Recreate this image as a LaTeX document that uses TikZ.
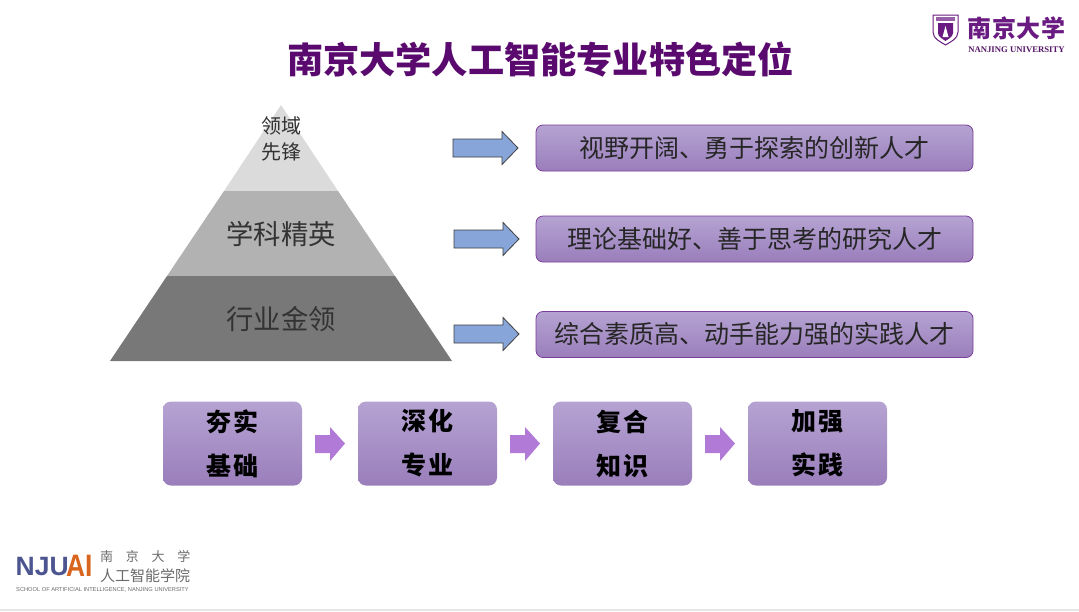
\documentclass[tikz,border=0pt]{standalone}
\usepackage{fontspec}
\setmainfont{Noto Sans CJK SC}
\newfontfamily\latinserif{Liberation Serif}
\newfontfamily\latinsans{Liberation Sans}
\usetikzlibrary{calc}
\definecolor{titlepurple}{HTML}{5A0A6E}
\definecolor{njupurple}{HTML}{6A1B82}
\definecolor{boxtop}{HTML}{B5A3D2}
\definecolor{boxbot}{HTML}{9A7EBB}
\definecolor{boxline}{HTML}{7A3E9A}
\definecolor{arrowblue}{HTML}{87A5D8}
\definecolor{linkpurple}{HTML}{B07AD6}
\definecolor{logoblue}{HTML}{4D5590}
\definecolor{logoorange}{HTML}{D9641E}
\definecolor{logogrey}{HTML}{6B6B6B}
\tikzset{
  x=1pt,y=-1pt,
  outcome/.style={draw=boxline,line width=0.8pt,rounded corners=7pt,top color=boxtop,bottom color=boxbot,minimum width=437pt,minimum height=46pt,inner sep=0pt,text=black!85,font=\fontsize{25}{25}\selectfont},
  stage/.style={rounded corners=8pt,top color=boxtop,bottom color=boxbot,minimum width=139pt,minimum height=84pt,inner sep=0pt,align=center,font=\fontsize{25}{44}\selectfont\bfseries,text=black},
  pyrtext/.style={text=black!80,inner sep=0pt,align=center},
  bluearrow/.style={draw=black!75,line width=0.8pt,fill=arrowblue},
  linkarrow/.style={fill=linkpurple},
}
\begin{document}
\begin{tikzpicture}
\useasboundingbox (0,0) rectangle (1079,611);
\fill[white] (0,0) rectangle (1079,611);
\fill[black!10] (0,608.5) rectangle (1079,611);

% title
\node[inner sep=0pt,text=titlepurple,font=\fontsize{36.2}{36}\selectfont\bfseries] (title) at (540.5,60) {南京大学人工智能专业特色定位};

% pyramid
\fill[black!14] (281,105) -- (338,191) -- (224,191) -- cycle;
\fill[black!30] (224,191) -- (338,191) -- (395,276) -- (167,276) -- cycle;
\fill[black!53] (167,276) -- (395,276) -- (452,361) -- (110,361) -- cycle;
\node[pyrtext,font=\fontsize{20}{25.5}\selectfont] (p1) at (281,139) {领域\\先锋};
\node[pyrtext,font=\fontsize{27.3}{27}\selectfont] (p2) at (281,234) {学科精英};
\node[pyrtext,font=\fontsize{27.3}{27}\selectfont] (p3) at (281,319) {行业金领};

% outcome boxes
\node[outcome] (o1) at (754.5,148) {视野开阔、勇于探索的创新人才};
\node[outcome] (o2) at (754.5,239) {理论基础好、善于思考的研究人才};
\node[outcome] (o3) at (754.5,334.5) {综合素质高、动手能力强的实践人才};

% blue block arrows
\foreach \yy/\xx in {148/453,239/454,334/454}{
  \draw[bluearrow,line join=miter] (\xx,\yy-9) -- ++(49,0) -- ++(0,-7.5) -- ++(16,16.5) -- ++(-16,16.5) -- ++(0,-7.5) -- ++(-49,0) -- cycle;
}

% stage boxes
\node[stage] (s1) at (232.5,443.5) {夯\hspace{0.1em}实\\基\hspace{0.1em}础};
\node[stage] (s2) at (427.5,443.5) {深\hspace{0.1em}化\\专\hspace{0.1em}业};
\node[stage] (s3) at (622.5,443.5) {复\hspace{0.1em}合\\知\hspace{0.1em}识};
\node[stage] (s4) at (817.5,443.5) {加\hspace{0.1em}强\\实\hspace{0.1em}践};

% link arrows
\foreach \xx in {315,510,705}{
  \fill[linkpurple] (\xx,435) -- ++(15,0) -- ++(0,-8) -- ++(15,16.5) -- ++(-15,17.5) -- ++(0,-8) -- ++(-15,0) -- cycle;
}

% NJU logo top right
\draw[njupurple,line width=1pt,fill=white] (933,15) -- (958,15) -- (958,32) .. controls (958,39) and (950,42) .. (945.5,45) .. controls (941,42) and (933,39) .. (933,32) -- cycle;
\fill[njupurple] (938,23) -- (953,23) -- (953,33) .. controls (953,37) and (948,39) .. (945.5,41) .. controls (943,39) and (938,37) .. (938,33) -- cycle;
\fill[white] (945.5,26) -- (948.5,37) -- (942.5,37) -- cycle;
\fill[njupurple!70] (936,17) rectangle (955,21);
\node[inner sep=0pt,text=njupurple,font=\fontsize{24}{24}\selectfont\bfseries] (nju) at (1016.5,28) {南\hspace{0.03em}京\hspace{0.03em}大\hspace{0.03em}学};
\node[inner sep=0pt,text=njupurple!80!black,font=\latinserif\fontsize{8.7}{8.7}\selectfont\bfseries] (njuen) at (1016.5,49.5) {NANJING UNIVERSITY};

% school logo bottom left
\node[inner sep=0pt,anchor=west,text=logoblue,font=\latinsans\fontsize{26.5}{26.5}\selectfont\bfseries] (njulogo) at (15.5,566.5) {NJU};
\node[inner sep=0pt,anchor=west,xscale=0.85,text=logoorange,font=\latinsans\fontsize{31}{31}\selectfont\bfseries] (ailogo) at (66,565.5) {AI};
\node[inner sep=0pt,anchor=west,text=logogrey,font=\fontsize{13}{13}\selectfont] (sch1) at (100,557) {南\hspace{0.98em}京\hspace{0.98em}大\hspace{0.98em}学};
\node[inner sep=0pt,anchor=west,text=logogrey,font=\fontsize{15}{15}\selectfont] (sch2) at (100,575.5) {人工智能学院};
\node[inner sep=0pt,anchor=west,text=logogrey,font=\latinsans\fontsize{5.7}{6}\selectfont] (sch3) at (16,590) {SCHOOL OF ARTIFICIAL INTELLIGENCE, NANJING UNIVERSITY};
\end{tikzpicture}
\end{document}
